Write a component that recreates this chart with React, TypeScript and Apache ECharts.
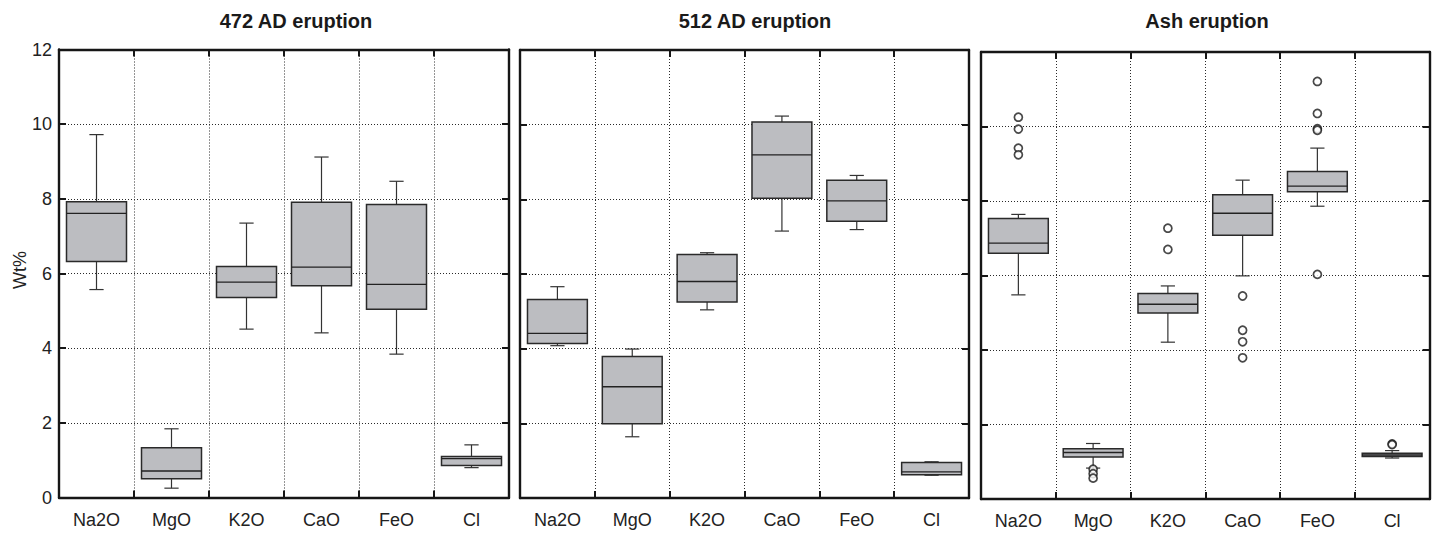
import React, { useEffect, useRef } from "react";
import * as echarts from "echarts";

const categories = ["Na2O", "MgO", "K2O", "CaO", "FeO", "Cl"];
const panelTitles = ["472 AD eruption", "512 AD eruption", "Ash eruption"];
const yAxisName = "Wt%";
const yMin = 0;
const yMax = 12;
const yStep = 2;

// each row: [lower whisker, Q1, median, Q3, upper whisker]
const ad472Boxes = [
  [5.57, 6.32, 7.61, 7.92, 9.72],
  [0.25, 0.5, 0.71, 1.33, 1.84],
  [4.51, 5.36, 5.77, 6.19, 7.35],
  [4.41, 5.67, 6.17, 7.91, 9.12],
  [3.84, 5.04, 5.71, 7.85, 8.47],
  [0.8, 0.86, 1.04, 1.1, 1.41],
];
const ad512Boxes = [
  [4.08, 4.14, 4.41, 5.32, 5.66],
  [1.64, 1.99, 2.98, 3.79, 3.99],
  [5.04, 5.25, 5.8, 6.52, 6.57],
  [7.15, 8.03, 9.19, 10.07, 10.23],
  [7.19, 7.41, 7.96, 8.51, 8.64],
  [0.61, 0.62, 0.7, 0.95, 0.97],
];
const ashBoxes = [
  [5.48, 6.6, 6.87, 7.53, 7.64],
  [0.83, 1.13, 1.25, 1.35, 1.49],
  [4.21, 4.99, 5.23, 5.52, 5.72],
  [5.99, 7.08, 7.67, 8.17, 8.56],
  [7.86, 8.25, 8.4, 8.79, 9.42],
  [1.1, 1.14, 1.18, 1.23, 1.3],
];
// outliers: [category index, value]
const ad472Outliers: number[][] = [];
const ad512Outliers: number[][] = [];
const ashOutliers = [
  [0, 10.25], [0, 9.93], [0, 9.42], [0, 9.24],
  [1, 0.8], [1, 0.68], [1, 0.56],
  [2, 7.27], [2, 6.7],
  [3, 5.45], [3, 4.53], [3, 4.22], [3, 3.79],
  [4, 11.21], [4, 10.35], [4, 9.94], [4, 9.9], [4, 6.03],
  [5, 1.48], [5, 1.46],
];

const panelBoxes = [ad472Boxes, ad512Boxes, ashBoxes];
const panelOutliers = [ad472Outliers, ad512Outliers, ashOutliers];

const FONT = "'Liberation Sans', Arial, Helvetica, sans-serif";
const INK = "#161616";

export default function App() {
  const ref = useRef<HTMLDivElement>(null);

  useEffect(() => {
    if (!ref.current) return;
    const chart = echarts.init(ref.current, null, { renderer: "svg" });

    const grids = [
      { left: 59, top: 49.5, width: 450, height: 448 },
      { left: 520, top: 50, width: 449, height: 448 },
      { left: 981, top: 52, width: 448.5, height: 447 },
    ];
    const titleX = [296, 755, 1207];

    const axisLine = { show: true, onZero: false, lineStyle: { color: INK, width: 2.4 } };
    const tick = { show: true, inside: true, length: 7, lineStyle: { color: INK, width: 2 } };
    const dotted = { color: "#2a2a2a", width: 1, type: [1, 2] };

    const xAxes: any[] = [];
    const yAxes: any[] = [];
    const series: any[] = [];

    grids.forEach((g, i) => {
      xAxes.push({
        type: "category",
        gridIndex: i,
        data: categories,
        position: "bottom",
        boundaryGap: true,
        axisLine,
        axisTick: { ...tick, interval: 0 },
        axisLabel: { show: true, interval: 0, margin: 13, color: "#222", fontSize: 18, fontFamily: FONT },
        splitLine: { show: true, interval: 0, lineStyle: dotted },
      });
      xAxes.push({
        type: "category",
        gridIndex: i,
        data: categories,
        position: "top",
        boundaryGap: true,
        axisLine,
        axisTick: { ...tick, interval: 0 },
        axisLabel: { show: false },
        splitLine: { show: false },
      });
      yAxes.push({
        type: "value",
        gridIndex: i,
        min: yMin,
        max: yMax,
        interval: yStep,
        position: "left",
        axisLine,
        axisTick: tick,
        axisLabel: { show: i === 0, margin: 7, color: "#222", fontSize: 18, fontFamily: FONT },
        splitLine: { show: true, lineStyle: dotted },
      });
      yAxes.push({
        type: "value",
        gridIndex: i,
        min: yMin,
        max: yMax,
        interval: yStep,
        position: "right",
        axisLine,
        axisTick: tick,
        axisLabel: { show: false },
        splitLine: { show: false },
      });

      const boxData = panelBoxes[i].map((b, k) => [k, ...b]);
      series.push({
        type: "custom",
        xAxisIndex: i * 2,
        yAxisIndex: i * 2,
        data: boxData,
        encode: { x: 0, y: [1, 2, 3, 4, 5] },
        z: 3,
        renderItem: (params: any, api: any) => {
          const idx = api.value(0);
          const ys = [1, 2, 3, 4, 5].map((d) => api.coord([idx, api.value(d)])[1]);
          const cx = api.coord([idx, api.value(1)])[0];
          const band = api.size([1, 0])[0];
          const bw = band * 0.8;
          const cw = band * 0.19;
          const [pMin, pQ1, pMed, pQ3, pMax] = ys;
          const whisk = { stroke: "#333", lineWidth: 1.2 };
          return {
            type: "group",
            children: [
              { type: "line", shape: { x1: cx, y1: pQ3, x2: cx, y2: pMax }, style: whisk },
              { type: "line", shape: { x1: cx, y1: pQ1, x2: cx, y2: pMin }, style: whisk },
              { type: "line", shape: { x1: cx - cw / 2, y1: pMax, x2: cx + cw / 2, y2: pMax }, style: whisk },
              { type: "line", shape: { x1: cx - cw / 2, y1: pMin, x2: cx + cw / 2, y2: pMin }, style: whisk },
              {
                type: "rect",
                shape: { x: cx - bw / 2, y: pQ3, width: bw, height: pQ1 - pQ3 },
                style: { fill: "#bcbdc1", stroke: "#2a2a2a", lineWidth: 1.5 },
              },
              {
                type: "line",
                shape: { x1: cx - bw / 2, y1: pMed, x2: cx + bw / 2, y2: pMed },
                style: { stroke: "#222", lineWidth: 1.4 },
              },
            ],
          };
        },
      });
      if (panelOutliers[i].length) {
        series.push({
          type: "scatter",
          xAxisIndex: i * 2,
          yAxisIndex: i * 2,
          data: panelOutliers[i],
          symbol: "circle",
          symbolSize: 8,
          z: 4,
          itemStyle: { color: "#ffffff", borderColor: "#1a1a1a", borderWidth: 1.7 },
        });
      }
    });

    const graphics: any[] = panelTitles.map((t, i) => ({
      type: "text",
      x: titleX[i],
      y: 21,
      style: {
        text: t,
        font: `bold 20px ${FONT}`,
        fill: "#1a1a1a",
        align: "center",
        verticalAlign: "middle",
      },
    }));
    graphics.push({
      type: "text",
      x: 20,
      y: 270,
      rotation: Math.PI / 2,
      style: {
        text: yAxisName,
        font: `18px ${FONT}`,
        fill: "#222",
        align: "center",
        verticalAlign: "middle",
      },
    });

    chart.setOption({
      animation: false,
      backgroundColor: "#ffffff",
      grid: grids.map((g) => ({ ...g, show: false, containLabel: false })),
      xAxis: xAxes,
      yAxis: yAxes,
      series,
      graphic: graphics,
    });

    return () => chart.dispose();
  }, []);

  return (
    <div
      ref={ref}
      style={{ position: "fixed", left: 0, top: 0, width: 1441, height: 537, background: "#fff" }}
    />
  );
}
